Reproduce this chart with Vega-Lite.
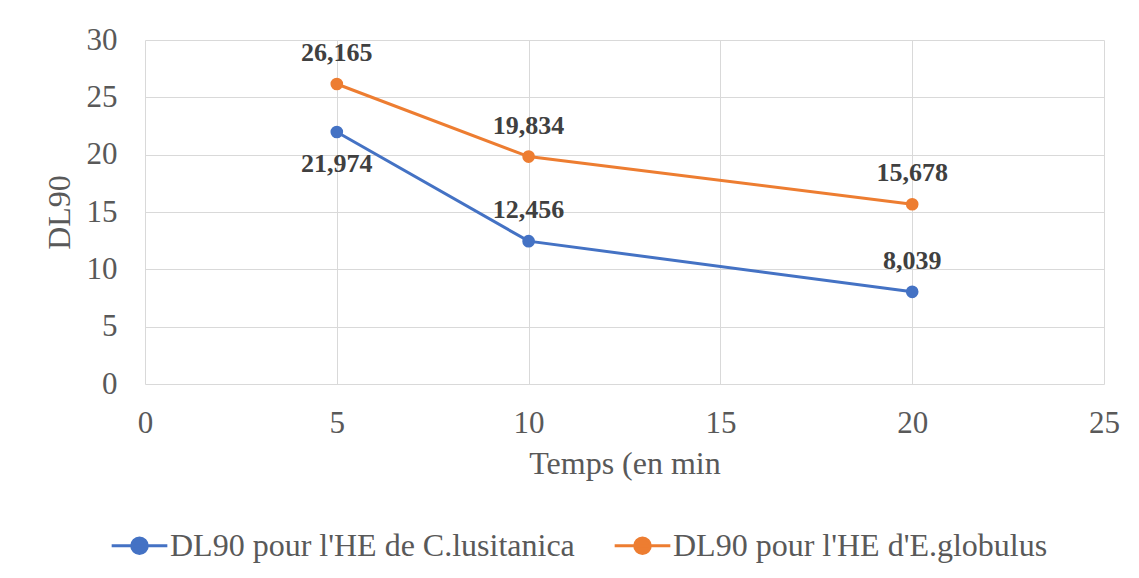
{
  "$schema": "https://vega.github.io/schema/vega-lite/v6.json",
  "autosize": "none",
  "width": 959,
  "height": 344,
  "padding": {"left": 145, "top": 40, "right": 35, "bottom": 194},
  "background": "white",
  "config": {
    "font": "Liberation Serif",
    "view": {"stroke": null},
    "axis": {
      "labelFont": "Liberation Serif",
      "labelFontSize": 31,
      "labelColor": "#595959",
      "titleFont": "Liberation Serif",
      "titleFontSize": 32,
      "titleFontWeight": "normal",
      "titleColor": "#595959",
      "gridColor": "#d9d9d9",
      "gridWidth": 1,
      "ticks": false,
      "labelFlush": false,
      "domainColor": "#d9d9d9"
    },
    "legend": {"labelFont": "Liberation Serif"}
  },
  "data": {
    "values": [
      {"temps": 5, "dl90": 21.974, "label": "21,974", "serie": "DL90 pour l'HE de C.lusitanica"},
      {"temps": 10, "dl90": 12.456, "label": "12,456", "serie": "DL90 pour l'HE de C.lusitanica"},
      {"temps": 20, "dl90": 8.039, "label": "8,039", "serie": "DL90 pour l'HE de C.lusitanica"},
      {"temps": 5, "dl90": 26.165, "label": "26,165", "serie": "DL90 pour l'HE d'E.globulus"},
      {"temps": 10, "dl90": 19.834, "label": "19,834", "serie": "DL90 pour l'HE d'E.globulus"},
      {"temps": 20, "dl90": 15.678, "label": "15,678", "serie": "DL90 pour l'HE d'E.globulus"}
    ]
  },
  "encoding": {
    "x": {
      "field": "temps", "type": "quantitative",
      "scale": {"domain": [0, 25], "nice": false},
      "axis": {"values": [0, 5, 10, 15, 20, 25], "title": "Temps (en min", "labelFont": "Liberation Serif", "labelFontSize": 31, "labelFlush": false, "labelPadding": 24, "titlePadding": 10, "domain": false}
    },
    "y": {
      "field": "dl90", "type": "quantitative",
      "scale": {"domain": [0, 30], "nice": false},
      "axis": {"values": [0, 5, 10, 15, 20, 25, 30], "title": "DL90", "labelFont": "Liberation Serif", "labelFontSize": 31, "labelFlush": false, "labelPadding": 28, "titlePadding": 10, "domain": false}
    }
  },
  "layer": [
    {
      "mark": {"type": "line", "strokeWidth": 3, "point": {"size": 160, "filled": true, "opacity": 1}},
      "encoding": {
        "color": {
          "field": "serie", "type": "nominal",
          "scale": {"domain": ["DL90 pour l'HE de C.lusitanica", "DL90 pour l'HE d'E.globulus"], "range": ["#4472C4", "#ED7D31"]},
          "legend": {
            "title": null,
            "orient": "none",
            "legendX": -35,
            "legendY": 476,
            "direction": "horizontal",
            "labelFont": "Liberation Serif",
            "labelFontSize": 32,
            "labelColor": "#595959",
            "symbolType": "M-1,0H1M-0.28,0A0.28,0.28,0,1,1,0.28,0A0.28,0.28,0,1,1,-0.28,0Z",
            "symbolSize": 3100,
            "symbolStrokeWidth": 3,
            "labelOffset": 1,
            "columnPadding": 33,
            "labelLimit": 600
          }
        }
      }
    },
    {
      "transform": [{"filter": "!(datum.temps == 5 && datum.dl90 < 25)"}],
      "mark": {"type": "text", "dy": -31, "fontSize": 26, "fontWeight": "bold", "color": "#404040", "font": "Liberation Serif"},
      "encoding": {"text": {"field": "label"}}
    },
    {
      "transform": [{"filter": "datum.temps == 5 && datum.dl90 < 25"}],
      "mark": {"type": "text", "dy": 32, "fontSize": 26, "fontWeight": "bold", "color": "#404040", "font": "Liberation Serif"},
      "encoding": {"text": {"field": "label"}}
    }
  ]
}
